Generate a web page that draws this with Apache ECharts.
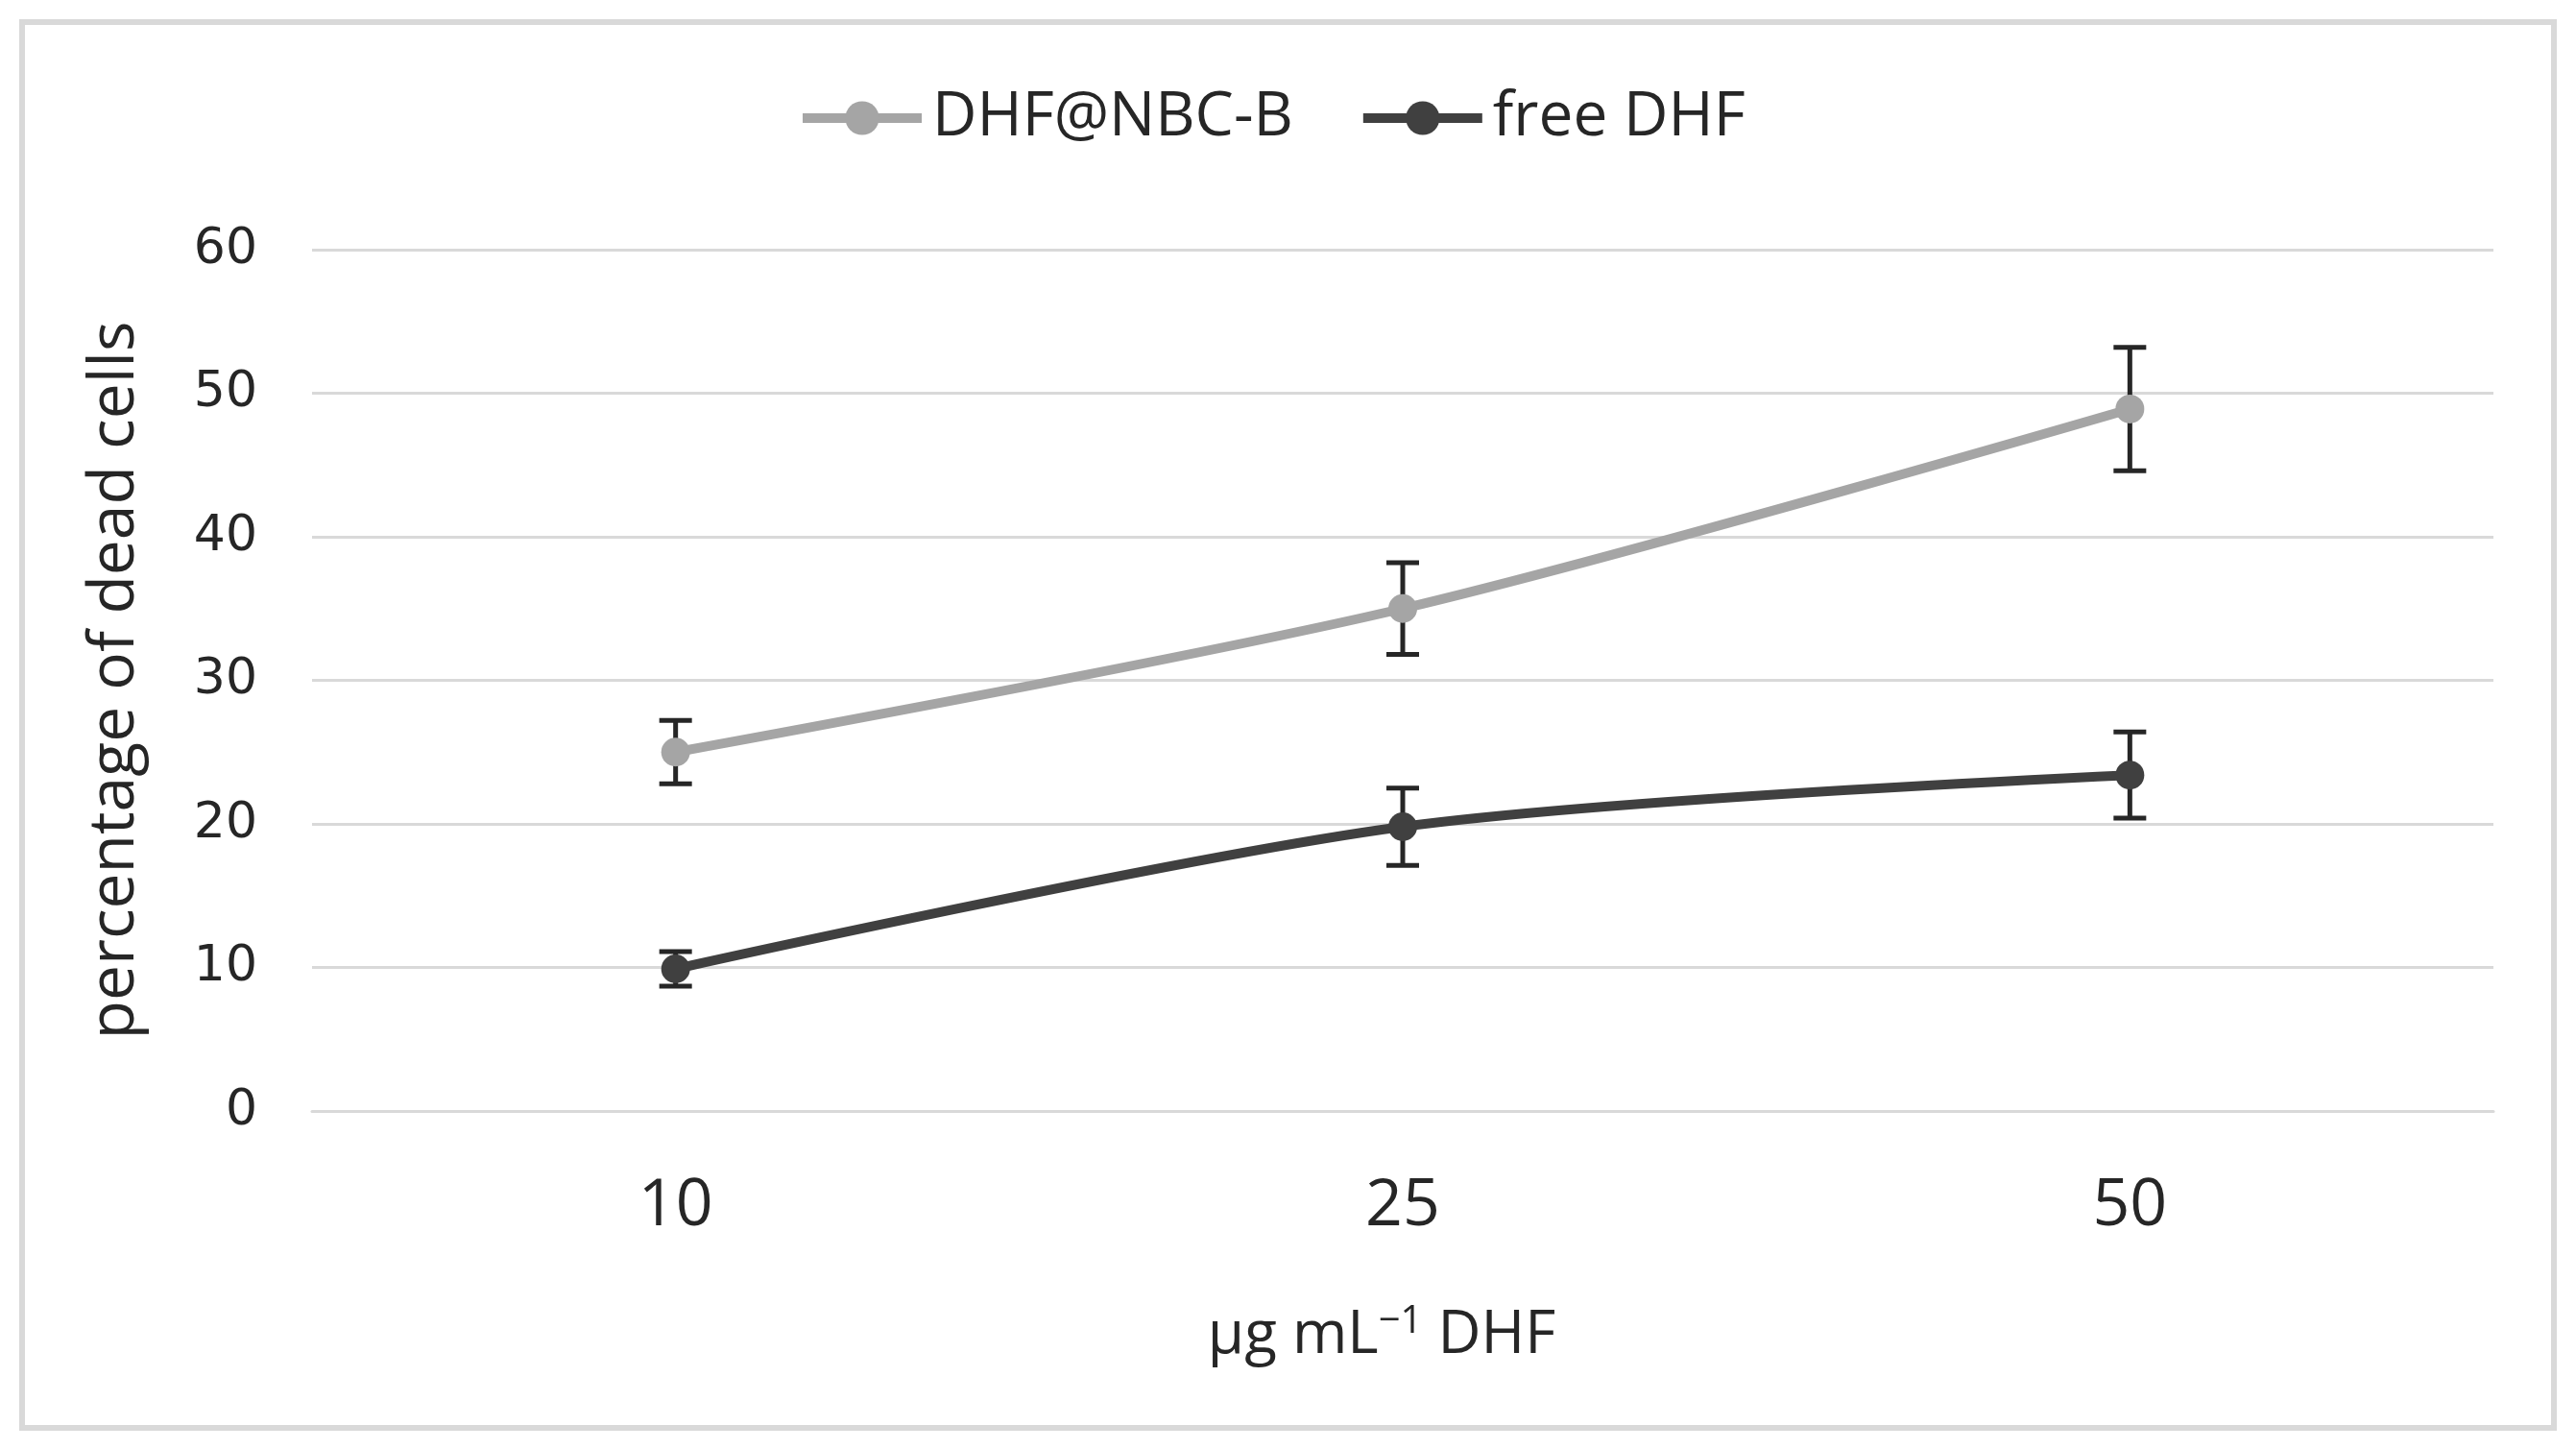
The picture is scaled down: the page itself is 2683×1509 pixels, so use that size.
<!DOCTYPE html>
<html><head><meta charset="utf-8">
<script src="https://cdn.jsdelivr.net/npm/echarts@6/dist/echarts.min.js"></script>
<style>html,body{margin:0;padding:0;background:#fff}#c{width:2683px;height:1509px}</style>
</head><body><div id="c"></div>
<script>
const categories = ['10', '25', '50'];
const nbcB = [25.0, 35.0, 48.9];
const nbcBErr = [2.2, 3.2, 4.3];
const freeDHF = [9.9, 19.8, 23.4];
const freeDHFErr = [1.2, 2.7, 3.0];
const yTicks = [0, 10, 20, 30, 40, 50, 60];

const narrow = '"Open Sans", sans-serif';

function errSeries(vals, errs, name) {
  return {
    type: 'custom', name: name + ' err', z: 1, silent: true,
    data: vals.map((v, i) => [i, v - errs[i], v + errs[i]]),
    renderItem: function (params, api) {
      const lo = api.coord([api.value(0), api.value(1)]);
      const hi = api.coord([api.value(0), api.value(2)]);
      const hw = 17;
      const st = { stroke: '#262626', lineWidth: 5 };
      return { type: 'group', children: [
        { type: 'line', shape: { x1: hi[0], y1: hi[1], x2: lo[0], y2: lo[1] }, style: st },
        { type: 'line', shape: { x1: hi[0] - hw, y1: hi[1], x2: hi[0] + hw, y2: hi[1] }, style: st },
        { type: 'line', shape: { x1: lo[0] - hw, y1: lo[1], x2: lo[0] + hw, y2: lo[1] }, style: st }
      ]};
    }
  };
}

const chart = echarts.init(document.getElementById('c'), null, { renderer: 'canvas' });
chart.setOption({
  backgroundColor: '#ffffff',
  animation: false,
  graphic: [{ type: 'rect', shape: { x: 23, y: 23, width: 2637, height: 1464 },
    style: { fill: 'none', stroke: '#d9d9d9', lineWidth: 6 }, z: -1 }],
  legend: {
    left: 826, top: 86, itemWidth: 124, itemHeight: 44, itemGap: 68,
    lineStyle: { width: 10 },
    textStyle: { fontFamily: narrow, fontSize: 64, color: '#262626', padding: [0, 0, 0, 6] },
    data: ['DHF@NBC-B', 'free DHF']
  },
  grid: { left: 325, right: 86, top: 260, bottom: 352 },
  xAxis: {
    type: 'category', data: categories, boundaryGap: true,
    axisLine: { lineStyle: { color: '#d9d9d9', width: 3 } },
    axisTick: { show: false },
    axisLabel: { fontFamily: narrow, fontSize: 68, color: '#262626', margin: 66 },
    name: '{a|μg mL}{s|−1}{a| DHF}', nameLocation: 'middle', nameGap: 200,
    nameTextStyle: { fontFamily: narrow, fontSize: 62, color: '#262626', padding: [0, 44, 0, 0],
      rich: { a: { fontFamily: narrow, fontSize: 62, color: '#262626' },
              s: { fontFamily: narrow, fontSize: 40, color: '#262626', verticalAlign: 'top', padding: [0, 0, 28, 0] } } }
  },
  yAxis: {
    type: 'value', min: 0, max: 60, interval: 10,
    axisLine: { show: false }, axisTick: { show: false },
    splitLine: { lineStyle: { color: '#d9d9d9', width: 3 } },
    axisLabel: { fontFamily: '"DejaVu Sans", sans-serif', fontSize: 52, color: '#262626', margin: 57,
      formatter: v => yTicks.includes(v) ? String(v) : '' },
    name: 'percentage of dead cells', nameLocation: 'middle', nameGap: 172,
    nameTextStyle: { fontFamily: narrow, fontSize: 66, color: '#262626' }
  },
  series: [
    errSeries(nbcB, nbcBErr, 'DHF@NBC-B'),
    errSeries(freeDHF, freeDHFErr, 'free DHF'),
    { name: 'DHF@NBC-B', type: 'line', data: nbcB, smooth: 0.3, z: 3,
      symbol: 'circle', symbolSize: 30, color: '#a5a5a5',
      lineStyle: { width: 10, color: '#a5a5a5' }, itemStyle: { color: '#a5a5a5' } },
    { name: 'free DHF', type: 'line', data: freeDHF, smooth: 0.3, z: 3,
      symbol: 'circle', symbolSize: 30, color: '#404040',
      lineStyle: { width: 10, color: '#404040' }, itemStyle: { color: '#404040' } }
  ]
});
</script></body></html>
